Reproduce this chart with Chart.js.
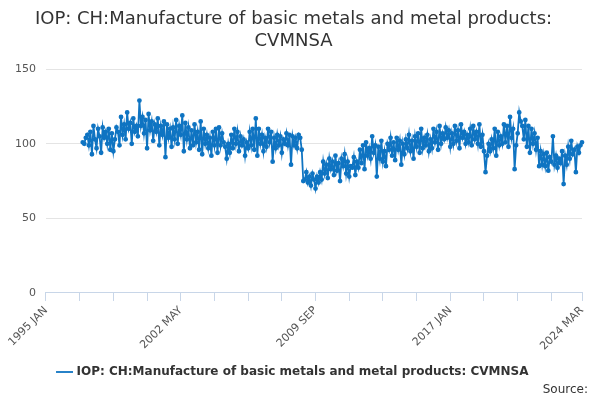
<!DOCTYPE html>
<html>
<head>
<meta charset="utf-8">
<script src="https://cdn.jsdelivr.net/npm/chart.js@4"></script>
<style>
  body { margin: 0; background: #fff; font-family: "DejaVu Sans", sans-serif; }
  #wrap { position: relative; width: 600px; height: 400px; }
  #src { position: absolute; right: 12px; bottom: 4px; font-size: 12px; color: #333; }
</style>
</head>
<body>
<div id="wrap">
  <canvas id="myChart" width="600" height="400"></canvas>
  <div id="src">Source:</div>
</div>
<script>
var seriesName = "IOP: CH:Manufacture of basic metals and metal products: CVMNSA";
var monthNames = ["JAN","FEB","MAR","APR","MAY","JUN","JUL","AUG","SEP","OCT","NOV","DEC"];
var firstYear = 1995, dataStartYear = 1997;

// monthly values, one row per year from 1997
var v1997 = [101,100,104,106,99,108,93,112,103,97,110,105];
var v1998 = [94,111,104,108,100,110,96,107,95,103,111,108];
var v1999 = [99,118,106,113,103,121,110,114,100,117,108,112];
var v2000 = [105,129,112,118,107,116,97,120,109,115,102,113];
var v2001 = [108,117,99,112,106,115,91,113,104,110,98,111];
var v2002 = [103,116,100,112,106,119,95,114,103,111,97,109];
var v2003 = [99,113,101,108,96,115,93,110,100,106,97,104];
var v2004 = [92,108,99,110,94,111,99,107,101,98,90,100];
var v2005 = [94,106,97,110,100,108,95,105,99,103,92,101];
var v2006 = [97,108,99,110,96,117,92,110,100,106,95,104];
var v2007 = [98,110,101,108,88,104,97,106,99,105,94,103];
var v2008 = [100,107,99,106,86,105,99,104,97,106,104,96];
var v2009 = [75,76,81,74,78,72,80,76,70,78,74,81];
var v2010 = [76,88,80,86,77,90,83,88,79,92,82,87];
var v2011 = [75,90,85,93,80,88,78,85,84,91,79,88];
var v2012 = [84,96,87,99,83,101,92,97,90,105,94,99];
var v2013 = [78,98,90,102,88,95,85,100,96,104,92,101];
var v2014 = [89,104,96,102,86,100,93,103,97,106,95,102];
var v2015 = [90,105,98,107,94,110,97,104,99,106,95,103];
var v2016 = [97,110,101,108,96,112,100,107,103,111,104,109];
var v2017 = [98,107,100,112,102,109,97,113,104,108,100,106];
var v2018 = [101,110,99,112,103,108,100,113,98,106,95,81];
var v2019 = [92,100,95,103,97,110,92,108,99,105,100,113];
var v2020 = [101,112,98,118,104,110,83,99,107,121,115,112];
var v2021 = [103,116,98,112,94,110,100,107,96,104,85,95];
var v2022 = [86,93,85,94,82,91,88,105,86,92,84,90];
var v2023 = [87,95,73,92,86,98,90,102,93,96,81,98];
var v2024 = [94,99,101];

var values = [].concat(v1997,v1998,v1999,v2000,v2001,v2002,v2003,v2004,v2005,v2006,v2007,v2008,
  v2009,v2010,v2011,v2012,v2013,v2014,v2015,v2016,v2017,v2018,v2019,v2020,v2021,v2022,v2023,v2024);

var labels = [];
var data = [];
var lead = (dataStartYear - firstYear) * 12;
var total = lead + values.length;
for (var i = 0; i < total; i++) {
  labels.push((firstYear + Math.floor(i / 12)) + " " + monthNames[i % 12]);
  data.push(i < lead ? null : values[i - lead]);
}
var lastIdx = total - 1;

var blue = "#0f74c2";
new Chart(document.getElementById("myChart").getContext("2d"), {
  type: "line",
  data: {
    labels: labels,
    datasets: [{
      label: seriesName,
      data: data,
      borderColor: blue,
      backgroundColor: blue,
      borderWidth: 1.8,
      pointRadius: 1.5,
      pointHoverRadius: 3,
      tension: 0
    }]
  },
  options: {
    responsive: false,
    animation: false,
    layout: { padding: { left: 5, right: 18, top: 0, bottom: 12 } },
    plugins: {
      title: {
        display: true,
        text: ["IOP: CH:Manufacture of basic metals and metal products:", "CVMNSA"],
        color: "#333",
        font: { size: 18, family: "DejaVu Sans", weight: "normal" },
        padding: { top: 9, bottom: 17 }
      },
      legend: {
        position: "bottom",
        labels: {
          color: "#333",
          font: { size: 12, family: "DejaVu Sans", weight: "bold" },
          usePointStyle: true,
          pointStyle: "line",
          boxWidth: 18
        }
      }
    },
    scales: {
      x: {
        grid: { display: true, drawOnChartArea: false, drawTicks: true, tickLength: 8, color: "#c8d6e8" },
        border: { color: "#c8d6e8" },
        ticks: {
          autoSkip: false,
          maxRotation: 45,
          minRotation: 45,
          color: "#555",
          font: { size: 11, family: "DejaVu Sans" },
          callback: function (val, idx) {
            if (idx === lastIdx || idx % 88 === 0) return labels[idx];
            if (idx % 22 === 0) return "";
            return null;
          }
        }
      },
      y: {
        min: 0,
        max: 150,
        ticks: { stepSize: 50, color: "#555", font: { size: 11, family: "DejaVu Sans" }, padding: 10 },
        grid: { color: "#e4e4e4", drawTicks: false },
        border: { display: false }
      }
    }
  }
});
</script>
</body>
</html>
